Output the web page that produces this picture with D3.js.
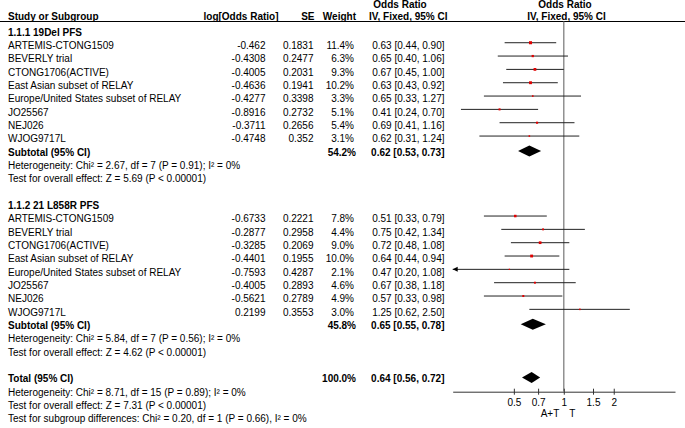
<!DOCTYPE html>
<html>
<head>
<meta charset="utf-8">
<script src="https://cdn.jsdelivr.net/npm/d3@7"></script>
<style>
  html, body { margin: 0; padding: 0; background: #fff; }
  svg { display: block; }
  text { font-family: "Liberation Sans", Arial, Helvetica, sans-serif; font-size: 10px; fill: #000; }
  .b { font-weight: bold; }
</style>
</head>
<body>
<svg id="chart" width="685" height="428"></svg>
<script>
// ---------- data ----------
const studies = ["ARTEMIS-CTONG1509", "BEVERLY trial", "CTONG1706(ACTIVE)", "East Asian subset of RELAY",
  "Europe/United States subset of RELAY", "JO25567", "NEJ026", "WJOG9717L"];

const group1Title = "1.1.1 19Del PFS";
const logOR1 = ["-0.462", "-0.4308", "-0.4005", "-0.4636", "-0.4277", "-0.8916", "-0.3711", "-0.4748"];
const se1 = ["0.1831", "0.2477", "0.2031", "0.1941", "0.3398", "0.2732", "0.2656", "0.352"];
const weight1 = [11.4, 6.3, 9.3, 10.2, 3.3, 5.1, 5.4, 3.1];
const or1 = [0.63, 0.65, 0.67, 0.63, 0.65, 0.41, 0.69, 0.62];
const lo1 = [0.44, 0.40, 0.45, 0.43, 0.33, 0.24, 0.41, 0.31];
const hi1 = [0.90, 1.06, 1.00, 0.92, 1.27, 0.70, 1.16, 1.24];
const subtotal1 = [0.62, 0.53, 0.73];   // OR, lower, upper
const subWeight1 = 54.2;
const het1 = "Heterogeneity: Chi\u00B2 = 2.67, df = 7 (P = 0.91); I\u00B2 = 0%";
const test1 = "Test for overall effect: Z = 5.69 (P < 0.00001)";

const group2Title = "1.1.2 21 L858R PFS";
const logOR2 = ["-0.6733", "-0.2877", "-0.3285", "-0.4401", "-0.7593", "-0.4005", "-0.5621", "0.2199"];
const se2 = ["0.2221", "0.2958", "0.2069", "0.1955", "0.4287", "0.2893", "0.2789", "0.3553"];
const weight2 = [7.8, 4.4, 9.0, 10.0, 2.1, 4.6, 4.9, 3.0];
const or2 = [0.51, 0.75, 0.72, 0.64, 0.47, 0.67, 0.57, 1.25];
const lo2 = [0.33, 0.42, 0.48, 0.44, 0.20, 0.38, 0.33, 0.62];
const hi2 = [0.79, 1.34, 1.08, 0.94, 1.08, 1.18, 0.98, 2.50];
const subtotal2 = [0.65, 0.55, 0.78];
const subWeight2 = 45.8;
const het2 = "Heterogeneity: Chi\u00B2 = 5.84, df = 7 (P = 0.56); I\u00B2 = 0%";
const test2 = "Test for overall effect: Z = 4.62 (P < 0.00001)";

const total = [0.64, 0.56, 0.72];
const totalWeight = 100.0;
const hetTotal = "Heterogeneity: Chi\u00B2 = 8.71, df = 15 (P = 0.89); I\u00B2 = 0%";
const testTotal = "Test for overall effect: Z = 7.31 (P < 0.00001)";
const testSub = "Test for subgroup differences: Chi\u00B2 = 0.20, df = 1 (P = 0.66), I\u00B2 = 0%";

const axisTicks = [0.5, 0.7, 1, 1.5, 2];
const axisDomain = [0.214, 4.68];
const favourLeft = "A+T";
const favourRight = "T";

// ---------- layout ----------
const svg = d3.select("#chart");
const x = d3.scaleLog().domain(axisDomain).range([452.7, 675]);
const row = d3.scaleLinear().domain([0, 29]).range([32, 418.6]);
const base = i => row(i) + 3.6;   // text baseline
const mark = i => row(i) - 2.6;   // CI line position

const col = { label: 8, logor: 265.5, se: 313.5, weight: 354, ci: 444.5 };
const fmt2 = v => v.toFixed(2);
const ciText = (o, l, h) => `${fmt2(o)} [${fmt2(l)}, ${fmt2(h)}]`;

function txt(xp, yp, s, anchor, bold) {
  svg.append("text").attr("x", xp).attr("y", yp)
    .attr("text-anchor", anchor || "start")
    .attr("class", bold ? "b" : null)
    .text(s);
}

// header
txt(400, 8, "Odds Ratio", "middle", true);
txt(565, 8, "Odds Ratio", "middle", true);
txt(col.label, 20, "Study or Subgroup", "start", true);
txt(278.5, 20, "log[Odds Ratio]", "end", true);
txt(314.5, 20, "SE", "end", true);
txt(356, 20, "Weight", "end", true);
txt(447.5, 20, "IV, Fixed, 95% CI", "end", true);
txt(566.5, 20, "IV, Fixed, 95% CI", "middle", true);
svg.append("line").attr("x1", 0).attr("x2", 685).attr("y1", 21.5).attr("y2", 21.5)
  .attr("stroke", "#000").attr("stroke-width", 1);

// vertical null line
svg.append("line").attr("x1", x(1)).attr("x2", x(1)).attr("y1", 21.5).attr("y2", 391.5)
  .attr("stroke", "#808080").attr("stroke-width", 1.3);

function drawGroup(startRow, title, logOR, se, w, or, lo, hi, sub, subW, het, test) {
  txt(col.label, base(startRow), title, "start", true);
  studies.forEach((name, k) => {
    const r = startRow + 1 + k;
    txt(col.label, base(r), name);
    txt(col.logor, base(r), logOR[k], "end");
    txt(col.se, base(r), se[k], "end");
    txt(col.weight, base(r), w[k].toFixed(1) + "%", "end");
    txt(col.ci, base(r), ciText(or[k], lo[k], hi[k]), "end");
    const clipped = lo[k] < axisDomain[0];
    const x1 = clipped ? x.range()[0] : x(lo[k]);
    const y = mark(r);
    svg.append("line").attr("x1", x1).attr("x2", x(hi[k])).attr("y1", y).attr("y2", y)
      .attr("stroke", "#222").attr("stroke-width", 1);
    if (clipped) {
      svg.append("path")
        .attr("d", d3.line()([[x1, y], [x1 + 5, y - 2.5], [x1 + 5, y + 2.5]]) + "Z")
        .attr("fill", "#000");
    }
    const s = Math.sqrt(w[k]) * 0.9;
    svg.append("rect").attr("x", x(or[k]) - s / 2).attr("y", y - s / 2)
      .attr("width", s).attr("height", s).attr("fill", "#e00000");
  });
  const sr = startRow + 9;
  txt(col.label, base(sr), "Subtotal (95% CI)", "start", true);
  txt(356, base(sr), subW.toFixed(1) + "%", "end", true);
  txt(col.ci, base(sr), ciText(sub[0], sub[1], sub[2]), "end", true);
  diamond(sr, sub);
  txt(col.label, base(sr + 1), het);
  txt(col.label, base(sr + 2), test);
}

function diamond(r, v) {
  const y = row(r) - 1;
  svg.append("path")
    .attr("d", d3.line()([[x(v[1]), y], [x(v[0]), y - 5.5], [x(v[2]), y], [x(v[0]), y + 5.5]]) + "Z")
    .attr("fill", "#000");
}

drawGroup(0, group1Title, logOR1, se1, weight1, or1, lo1, hi1, subtotal1, subWeight1, het1, test1);
drawGroup(13, group2Title, logOR2, se2, weight2, or2, lo2, hi2, subtotal2, subWeight2, het2, test2);

// total
txt(col.label, base(26), "Total (95% CI)", "start", true);
txt(356, base(26), totalWeight.toFixed(1) + "%", "end", true);
txt(col.ci, base(26), ciText(total[0], total[1], total[2]), "end", true);
diamond(26, total);
txt(col.label, base(27), hetTotal);
txt(col.label, base(28), testTotal);
txt(col.label, base(29), testSub);

// axis
const axisY = 391.7;
const ax = svg.append("g").attr("transform", `translate(0,${axisY})`)
  .call(d3.axisBottom(x).tickValues(axisTicks).tickSizeInner(3).tickSizeOuter(0)
    .tickFormat(d => String(d)));
ax.select(".domain").attr("stroke", "#333");
ax.selectAll(".tick line").attr("y1", -3).attr("y2", 3).attr("stroke", "#333");
ax.selectAll(".tick text").attr("y", 14.5).attr("dy", null)
  .style("font-family", "\"Liberation Sans\", Arial, sans-serif").style("font-size", "10px").attr("fill", "#000");

txt(x(1) - 4.5, 416.5, favourLeft, "end");
txt(x(1) + 5.5, 416.5, favourRight, "start");
</script>
</body>
</html>
